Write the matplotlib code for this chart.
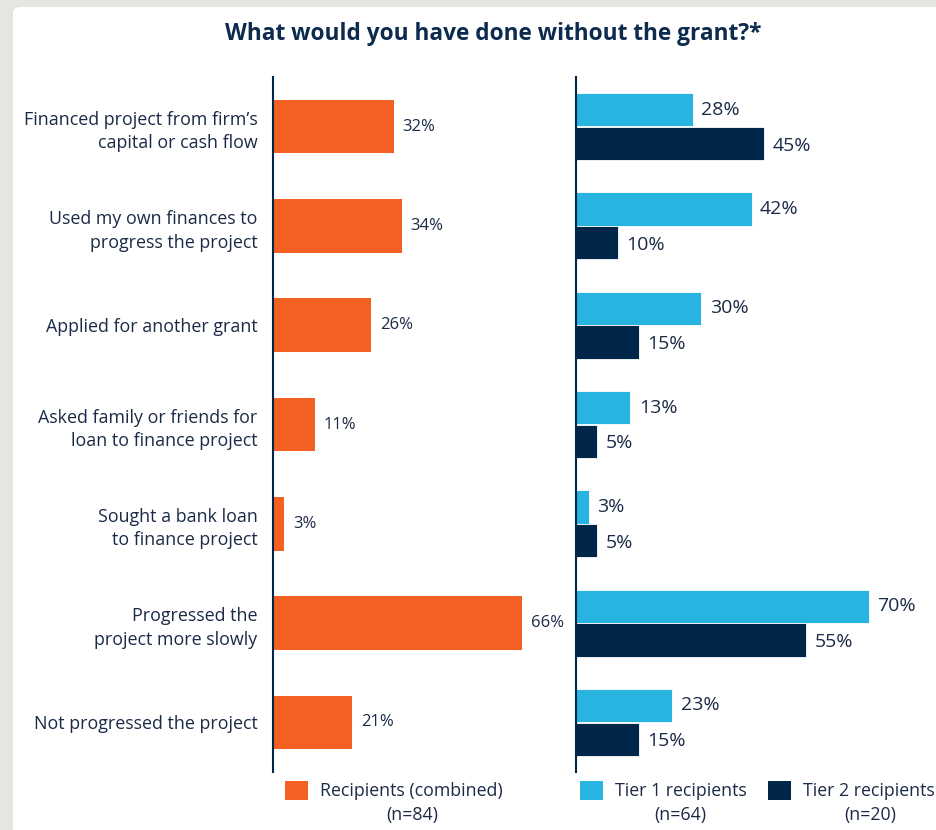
import matplotlib
matplotlib.use("Agg")
import matplotlib.pyplot as plt
from matplotlib.patches import FancyBboxPatch, Rectangle

plt.rcParams['font.family'] = ['Open Sans', 'DejaVu Sans']

categories = [
    "Financed project from firm\u2019s\ncapital or cash flow",
    "Used my own finances to\nprogress the project",
    "Applied for another grant",
    "Asked family or friends for\nloan to finance project",
    "Sought a bank loan\nto finance project",
    "Progressed the\nproject more slowly",
    "Not progressed the project",
]
combined = [32, 34, 26, 11, 3, 66, 21]
tier1 = [28, 42, 30, 13, 3, 70, 23]
tier2 = [45, 10, 15, 5, 5, 55, 15]

ORANGE = "#F26122"
LIGHT = "#27B4E1"
NAVY = "#002649"
TEXT = "#1B2A47"

W, H = 937, 830
fig = plt.figure(figsize=(W / 100, H / 100), dpi=100, facecolor="#E6E6E1")

# white card behind everything
card = FancyBboxPatch((13 / W, -0.1), 1.2, (H - 7) / H + 0.1,
                      boxstyle="round,pad=0,rounding_size=0.008",
                      transform=fig.transFigure, facecolor="white",
                      edgecolor="none", zorder=-10)
fig.patches.append(card)


def px(x0, y0, x1, y1):
    return [x0 / W, 1 - y1 / H, (x1 - x0) / W, (y1 - y0) / H]


ax1 = fig.add_axes(px(273, 77, 273 + 3.78 * 70, 772))
ax2 = fig.add_axes(px(576, 77, 937, 772))

ypos = list(range(len(categories)))

ax1.barh(ypos, combined, height=0.54, color=ORANGE)
for y, v in zip(ypos, combined):
    ax1.text(v + 2.3, y, f"{v}%", va="center", ha="left", fontsize=12, color=TEXT)
ax1.set_xlim(0, 70)

off = 0.17
ax2.barh([y - off for y in ypos], tier1, height=0.335, color=LIGHT,
         edgecolor="white", linewidth=0.6)
ax2.barh([y + off for y in ypos], tier2, height=0.335, color=NAVY,
         edgecolor="white", linewidth=0.6)
for y, v in zip(ypos, tier1):
    ax2.text(v + 2.0, y - off, f"{v}%", va="center", ha="left", fontsize=14, color=TEXT)
for y, v in zip(ypos, tier2):
    ax2.text(v + 2.0, y + off + 0.02, f"{v}%", va="center", ha="left", fontsize=14, color=TEXT)
ax2.set_xlim(0, 361 / 4.18)

for ax in (ax1, ax2):
    ax.set_ylim(6.5, -0.5)
    ax.set_facecolor("none")
    for s in ("top", "right", "bottom"):
        ax.spines[s].set_visible(False)
    ax.spines["left"].set_color(NAVY)
    ax.spines["left"].set_linewidth(1.5)
    ax.set_xticks([])
    ax.tick_params(axis="y", length=0)

ax1.set_yticks(ypos)
ax1.set_yticklabels(categories, fontsize=12.9, color=TEXT, ha="right",
                    multialignment="right", linespacing=1.4)
ax1.tick_params(axis="y", pad=11)
ax2.set_yticks([])

fig.text(493 / W, 1 - 34 / H, "What would you have done without the grant?*",
         ha="center", va="center", fontsize=16.3, fontweight="bold", color="#0D2B4E")

# legend
legend_items = [
    (285, ORANGE, "Recipients (combined)", "(n=84)", 412),
    (580, LIGHT, "Tier 1 recipients", "(n=64)", 680),
    (768, NAVY, "Tier 2 recipients", "(n=20)", 870),
]
for x0, col, label, n, ncx in legend_items:
    fig.patches.append(Rectangle((x0 / W, 1 - 800 / H), 23 / W, 19 / H,
                                 transform=fig.transFigure, facecolor=col,
                                 edgecolor="none"))
    fig.text((x0 + 35) / W, 1 - 791 / H, label, ha="left", va="center",
             fontsize=12.8, color=TEXT)
    fig.text(ncx / W, 1 - 815 / H, n, ha="center", va="center",
             fontsize=12.8, color=TEXT)

fig.savefig("out.png", dpi=100, facecolor=fig.get_facecolor())
